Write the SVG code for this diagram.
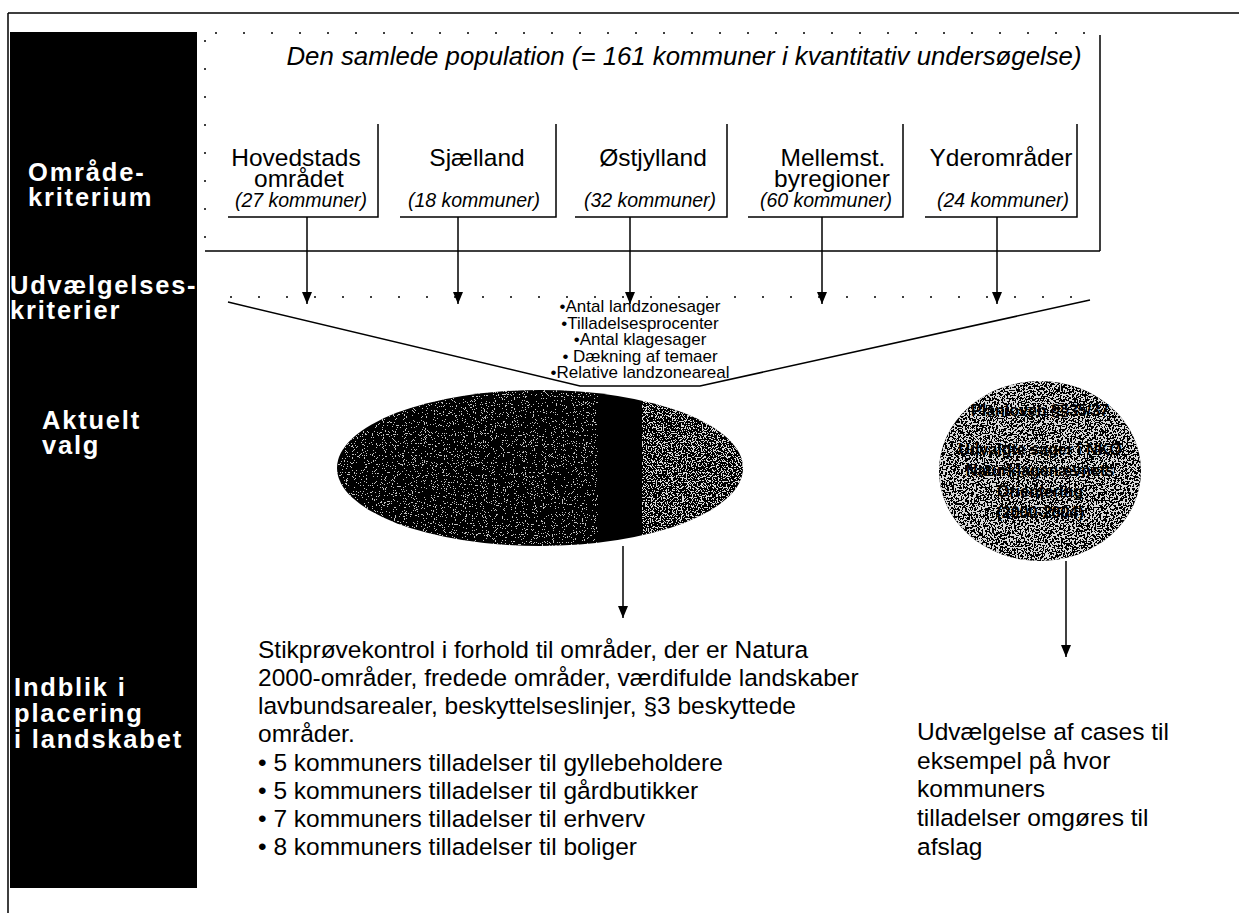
<svg xmlns="http://www.w3.org/2000/svg" width="1239" height="913" viewBox="0 0 1239 913">
<style>
.lbl{font-family:"Liberation Sans",Arial,sans-serif;font-weight:bold;font-size:25.5px;fill:#fff;letter-spacing:1.8px}
.box{font-family:"Liberation Sans",Arial,sans-serif;font-size:24.5px;fill:#000;text-anchor:middle}
.boxi{font-family:"Liberation Sans",Arial,sans-serif;font-size:19.5px;font-style:italic;fill:#000;text-anchor:middle}
.title{font-family:"Liberation Sans",Arial,sans-serif;font-size:25.8px;font-style:italic;fill:#000;text-anchor:middle}
.crit{font-family:"Liberation Sans",Arial,sans-serif;font-size:17px;fill:#000;text-anchor:middle}
.body{font-family:"Liberation Sans",Arial,sans-serif;font-size:24.5px;fill:#000}
.circ{font-family:"Liberation Sans",Arial,sans-serif;font-size:16px;font-weight:bold;fill:#000;text-anchor:middle}
.ln{stroke:#000;stroke-width:1.5;fill:none}
.dot{stroke:#000;stroke-width:1.5;fill:none;stroke-dasharray:2 26}
.arr{stroke:#000;stroke-width:1.5;fill:none;marker-end:url(#ah)}
</style>
<defs>
<marker id="ah" viewBox="0 0 12 10" refX="12" refY="5" markerWidth="12" markerHeight="10" markerUnits="userSpaceOnUse" orient="auto">
<path d="M0,0 L12,5 L0,10 Z" fill="#000"/>
</marker>
<filter id="spkA" x="0" y="0" width="1" height="1">
<feTurbulence type="fractalNoise" baseFrequency="0.9" numOctaves="2" seed="4" result="n"/>
<feColorMatrix in="n" type="matrix" values="0 0 0 0 1 0 0 0 0 1 0 0 0 0 1 1 0 0 0 0" result="w"/>
<feComponentTransfer in="w" result="t"><feFuncA type="discrete" tableValues="0 0 0 0 0 0 0 0 0 0 0 0 0 1 1 1 1 1 1 1"/></feComponentTransfer>
<feComposite in="t" in2="SourceAlpha" operator="in"/>
</filter>
<filter id="spkB" x="0" y="0" width="1" height="1">
<feTurbulence type="fractalNoise" baseFrequency="0.8" numOctaves="2" seed="9" result="n"/>
<feColorMatrix in="n" type="matrix" values="0 0 0 0 1 0 0 0 0 1 0 0 0 0 1 1 0 0 0 0" result="w"/>
<feComponentTransfer in="w" result="t"><feFuncA type="discrete" tableValues="0 0 0 0 0 0 0 0 0 0 0 1 1 1 1 1 1 1 1 1"/></feComponentTransfer>
<feComposite in="t" in2="SourceAlpha" operator="in"/>
</filter>
<filter id="spkC" x="0" y="0" width="1" height="1">
<feTurbulence type="fractalNoise" baseFrequency="0.55" numOctaves="3" seed="2" result="n"/>
<feColorMatrix in="n" type="matrix" values="0 0 0 0 1 0 0 0 0 1 0 0 0 0 1 1 0 0 0 0" result="w"/>
<feComponentTransfer in="w" result="t"><feFuncA type="discrete" tableValues="0 0 0 0 0 0 0 0 0 0 1 1 1 1 1 1 1 1 1 1"/></feComponentTransfer>
<feComposite in="t" in2="SourceAlpha" operator="in"/>
</filter>
<clipPath id="clL"><rect x="330" y="380" width="268" height="180"/></clipPath>
<clipPath id="clR"><rect x="642" y="380" width="110" height="180"/></clipPath>
</defs>
<rect width="1239" height="913" fill="#fff"/>

<g id="frame">
<path class="ln" d="M8,13 H1239 M8,13 V913"/>
</g>

<g id="sidebar">
<rect x="10" y="32" width="187" height="856" fill="#000"/>
<text class="lbl" x="28" y="181">Område-</text>
<text class="lbl" x="28" y="206">kriterium</text>
<text class="lbl" x="10" y="294">Udvælgelses-</text>
<text class="lbl" x="10" y="319">kriterier</text>
<text class="lbl" x="42" y="429">Aktuelt</text>
<text class="lbl" x="42" y="454">valg</text>
<text class="lbl" x="14" y="696">Indblik i</text>
<text class="lbl" x="14" y="722">placering</text>
<text class="lbl" x="14" y="748">i landskabet</text>
</g>

<g id="population">
<path class="dot" d="M215,33 H1100 M205,40 V250"/>
<path class="ln" d="M1100,35 V251 M205,251 H1100"/>
<text class="title" x="684" y="65">Den samlede population (= 161 kommuner i kvantitativ undersøgelse)</text>
</g>

<g id="box-hovedstad">
<path class="ln" d="M378,124 V217 H228"/>
<text class="box" x="296" y="166">Hovedstads</text>
<text class="box" x="299" y="187">området</text>
<text class="boxi" x="301" y="207">(27 kommuner)</text>
</g>
<g id="box-sjaelland">
<path class="ln" d="M556,124 V217 H400"/>
<text class="box" x="477" y="166">Sjælland</text>
<text class="boxi" x="474" y="207">(18 kommuner)</text>
</g>
<g id="box-oestjylland">
<path class="ln" d="M727,124 V217 H575"/>
<text class="box" x="653" y="166">Østjylland</text>
<text class="boxi" x="650" y="207">(32 kommuner)</text>
</g>
<g id="box-mellemst">
<path class="ln" d="M903,124 V217 H748"/>
<text class="box" x="833" y="166">Mellemst.</text>
<text class="box" x="832" y="187">byregioner</text>
<text class="boxi" x="826" y="207">(60 kommuner)</text>
</g>
<g id="box-yderomraader">
<path class="ln" d="M1077,124 V217 H925"/>
<text class="box" x="1001" y="166">Yderområder</text>
<text class="boxi" x="1003" y="207">(24 kommuner)</text>
</g>

<g id="funnel">
<path class="dot" d="M230,297 H1090"/>
<path class="ln" d="M228,302 L580,386 H700 L1090,300"/>
<text class="crit" x="640" y="312">•Antal landzonesager</text>
<text class="crit" x="640" y="328.5">•Tilladelsesprocenter</text>
<text class="crit" x="640" y="345">•Antal klagesager</text>
<text class="crit" x="640" y="361.5">• Dækning af temaer</text>
<text class="crit" x="640" y="378">•Relative landzoneareal</text>
</g>

<g id="ellipse-valg">
<ellipse cx="540" cy="468" rx="203" ry="78" fill="#000"/>
<g clip-path="url(#clL)"><ellipse cx="540" cy="468" rx="203" ry="78" fill="#000" filter="url(#spkA)" opacity="0.75"/></g>
<g clip-path="url(#clR)"><ellipse cx="540" cy="468" rx="203" ry="78" fill="#000" filter="url(#spkB)" opacity="0.85"/></g>
</g>

<g id="circle-nko">
<ellipse cx="1040" cy="471" rx="101" ry="90" fill="#000"/>
<ellipse cx="1040" cy="471" rx="101" ry="90" fill="#000" filter="url(#spkC)" opacity="0.85"/>
<text class="circ" x="1040" y="416">Planloven §§35/37</text>
<text class="circ" x="1040" y="455">Udvalgte sager i NKO</text>
<text class="circ" x="1040" y="476">Naturklagenævnets</text>
<text class="circ" x="1040" y="497">Orientering</text>
<text class="circ" x="1040" y="518">(2000-2004)</text>
</g>

<g id="connectors">
<path class="arr" d="M307,217 V304"/>
<path class="arr" d="M458,217 V304"/>
<path class="arr" d="M630,217 V304"/>
<path class="arr" d="M822,217 V304"/>
<path class="arr" d="M997,217 V304"/>
<path class="arr" d="M623,546 V618"/>
<path class="arr" d="M1066,561 V657"/>
</g>

<g id="text-stikproeve">
<text class="body" x="258" y="658">Stikprøvekontrol i forhold til områder, der er Natura</text>
<text class="body" x="258" y="686">2000-områder, fredede områder, værdifulde landskaber</text>
<text class="body" x="258" y="714">lavbundsarealer, beskyttelseslinjer, §3 beskyttede</text>
<text class="body" x="258" y="742">områder.</text>
<text class="body" x="258" y="771">• 5 kommuners tilladelser til gyllebeholdere</text>
<text class="body" x="258" y="799">• 5 kommuners tilladelser til gårdbutikker</text>
<text class="body" x="258" y="827">• 7 kommuners tilladelser til erhverv</text>
<text class="body" x="258" y="855">• 8 kommuners tilladelser til boliger</text>
</g>

<g id="text-cases">
<text class="body" x="917" y="740">Udvælgelse af cases til</text>
<text class="body" x="917" y="769">eksempel på hvor</text>
<text class="body" x="917" y="797">kommuners</text>
<text class="body" x="917" y="826">tilladelser omgøres til</text>
<text class="body" x="917" y="855">afslag</text>
</g>
</svg>
